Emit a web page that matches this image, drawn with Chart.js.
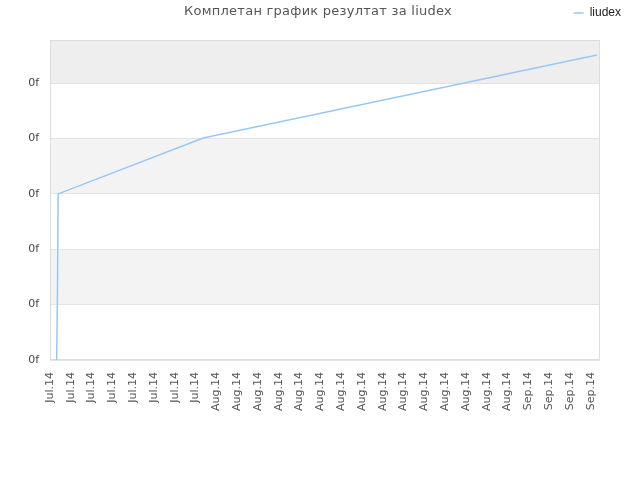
<!DOCTYPE html>
<html>
<head>
<meta charset="utf-8">
<script src="https://cdn.jsdelivr.net/npm/chart.js@4.4.1/dist/chart.umd.min.js"></script>
<style>
  html, body { margin: 0; padding: 0; background: #fff; }
  #wrap { width: 640px; height: 480px; }
</style>
</head>
<body>
<div id="wrap"><canvas id="scoreChart" width="640" height="480"></canvas></div>
<script>
// chart data
const chartTitle = "Комплетан график резултат за liudex";
const seriesName = "liudex";
const xTickLabels = [
    "Jul.14", "Jul.14", "Jul.14", "Jul.14", "Jul.14", "Jul.14", "Jul.14", "Jul.14",
    "Aug.14", "Aug.14", "Aug.14", "Aug.14", "Aug.14", "Aug.14", "Aug.14", "Aug.14",
    "Aug.14", "Aug.14", "Aug.14", "Aug.14", "Aug.14", "Aug.14", "Aug.14",
    "Sep.14", "Sep.14", "Sep.14", "Sep.14"
];
const yTickLabels = ["0f", "0f", "0f", "0f", "0f", "0f"];
// x in tick-step units, y in grid-step units
const seriesX = [0.32, 0.36, 0.39, 7.37, 26.31];
const seriesY = [0, 1.26, 3.0, 4.01, 5.51];

const bandColors = ["#ffffff", "#f3f3f3", "#ffffff", "#f3f3f3", "#ffffff", "#eeeeee"];
const font = "'DejaVu Sans', sans-serif";

// alternating background bands behind the grid
const bandPlugin = {
    id: "bands",
    beforeDraw(chart) {
        const { ctx, chartArea: a, scales: { y } } = chart;
        ctx.save();
        bandColors.forEach((c, i) => {
            const top = y.getPixelForValue(Math.min(i + 1, y.max));
            const bottom = y.getPixelForValue(i);
            ctx.fillStyle = c;
            ctx.fillRect(a.left, top, a.right - a.left, bottom - top);
        });
        ctx.restore();
    },
    beforeDatasetsDraw(chart) {
        const { ctx, chartArea: a } = chart;
        ctx.save();
        ctx.strokeStyle = "#dddddd";
        ctx.lineWidth = 1;
        ctx.strokeRect(Math.round(a.left) + 0.5, Math.round(a.top) + 0.5,
            Math.round(a.right - a.left) - 1, Math.round(a.bottom - a.top) - 1);
        ctx.restore();
    }
};

// title sits on the same row as the legend, legend pinned to the top edge
const titlePlugin = {
    id: "rowTitle",
    afterLayout(chart) {
        const lg = chart.legend;
        if (lg) {
            const h = lg.height;
            lg.top = 0;
            lg.bottom = h;
        }
    },
    afterDraw(chart) {
        const ctx = chart.ctx;
        ctx.save();
        ctx.font = "13px " + font;
        ctx.fillStyle = "#555555";
        ctx.textAlign = "center";
        ctx.textBaseline = "middle";
        ctx.letterSpacing = "0.25px";
        ctx.fillText(chartTitle, 318, 12);
        ctx.restore();
    }
};

const ctx = document.getElementById("scoreChart").getContext("2d");

new Chart(ctx, {
    type: "line",
    data: {
        datasets: [{
            label: seriesName,
            data: seriesX.map((x, i) => ({ x: x, y: seriesY[i] })),
            borderColor: "#99c8f5",
            backgroundColor: "#99c8f5",
            borderWidth: 1.5,
            pointRadius: 0,
            fill: false,
            tension: 0
        }]
    },
    options: {
        responsive: false,
        animation: false,
        layout: { padding: { top: 0, right: 12, bottom: 0, left: 0 } },
        plugins: {
            title: { display: false },
            tooltip: { enabled: false },
            legend: {
                display: true,
                position: "top",
                align: "end",
                labels: {
                    usePointStyle: true,
                    pointStyle: "line",
                    pointStyleWidth: 10,
                    boxWidth: 10,
                    padding: 7,
                    color: "#222222",
                    font: { family: "'Liberation Sans', Arial, sans-serif", size: 12 }
                }
            }
        },
        scales: {
            x: {
                type: "linear",
                min: 0,
                max: 26.45,
                grid: { display: false, drawTicks: false },
                border: { display: false },
                ticks: {
                    stepSize: 1,
                    includeBounds: false,
                    autoSkip: false,
                    minRotation: 90,
                    maxRotation: 90,
                    padding: 12,
                    color: "#555555",
                    font: { family: font, size: 11 },
                    callback: (v) => Number.isInteger(v) ? xTickLabels[v] : ""
                },
                afterFit: (s) => { s.height = 120; s.paddingRight = 40; }
            },
            y: {
                type: "linear",
                min: 0,
                max: 5.78,
                grid: { color: "#e3e3e3", drawTicks: false },
                border: { display: false },
                ticks: {
                    stepSize: 1,
                    includeBounds: false,
                    padding: 11,
                    color: "#444444",
                    font: { family: font, size: 11 },
                    callback: (v) => Number.isInteger(v) ? yTickLabels[v] : ""
                },
                afterFit: (s) => { s.width = 50; s.paddingTop = 40; }
            }
        }
    },
    plugins: [bandPlugin, titlePlugin]
});
</script>
</body>
</html>
